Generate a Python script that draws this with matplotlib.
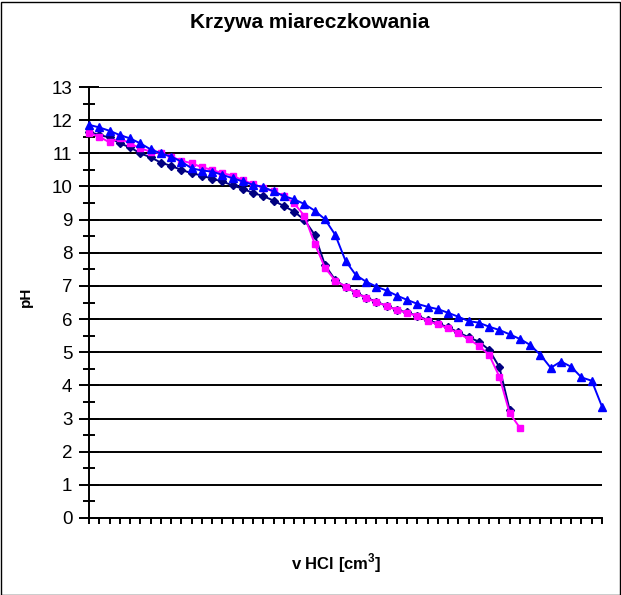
import matplotlib
matplotlib.use("Agg")
import matplotlib.pyplot as plt
from matplotlib.patches import Rectangle
from matplotlib.ticker import MultipleLocator

plt.rcParams["font.family"] = ["Liberation Sans", "DejaVu Sans"]
plt.rcParams["mathtext.fontset"] = "custom"
plt.rcParams["mathtext.bf"] = "Liberation Sans:bold"
plt.rcParams["mathtext.rm"] = "Liberation Sans"

# pH readings per titration step (category axis, no x labels)
ph_navy = [11.65, 11.55, 11.48, 11.30, 11.18, 11.00, 10.88, 10.72, 10.62, 10.50,
           10.40, 10.33, 10.23, 10.15, 10.03, 9.93, 9.80, 9.71, 9.57, 9.41,
           9.24, 8.99, 8.54, 7.63, 7.18, 6.97, 6.80, 6.65, 6.52, 6.40,
           6.28, 6.20, 6.10, 5.97, 5.87, 5.75, 5.60, 5.45, 5.32, 5.07,
           4.55, 3.26]
ph_pink = [11.62, 11.50, 11.33, 11.45, 11.30, 11.15, 11.05, 11.00, 10.90, 10.78,
           10.70, 10.58, 10.50, 10.40, 10.33, 10.18, 10.08, 9.95, 9.85, 9.71,
           9.49, 9.11, 8.27, 7.55, 7.16, 6.98, 6.80, 6.63, 6.51, 6.40,
           6.27, 6.19, 6.09, 5.94, 5.84, 5.72, 5.57, 5.40, 5.19, 4.92,
           4.26, 3.16, 2.72]
ph_blue = [11.86, 11.78, 11.68, 11.55, 11.45, 11.30, 11.12, 11.00, 10.90, 10.75,
           10.55, 10.48, 10.45, 10.35, 10.25, 10.15, 10.05, 9.98, 9.85, 9.71,
           9.61, 9.47, 9.27, 9.01, 8.54, 7.76, 7.33, 7.13, 6.98, 6.86,
           6.71, 6.58, 6.46, 6.37, 6.30, 6.19, 6.07, 5.94, 5.89, 5.77,
           5.67, 5.54, 5.40, 5.22, 4.92, 4.53, 4.72, 4.56, 4.24, 4.14,
           3.36]

W, H = 621, 595
fig = plt.figure(figsize=(W / 100, H / 100), dpi=100)
ax = fig.add_axes([89 / W, 1 - 518 / H, (602 - 89) / W, (518 - 87) / H])

series = [
    (ph_navy, "#000080", "D", 4.0),
    (ph_pink, "#FF00FF", "s", 4.6),
    (ph_blue, "#0000FF", "^", 5.2),
]
for vals, col, mk, ms in series:
    ax.plot(range(len(vals)), vals, color=col, lw=1.4, marker=mk, ms=ms,
            mec=col, mfc=col, clip_on=False, zorder=3)

n_cat = len(ph_blue)
ax.set_xlim(0, n_cat - 1)
ax.set_ylim(0, 13)
ax.set_xticks(range(n_cat))
ax.set_xticklabels([])
ax.yaxis.set_major_locator(MultipleLocator(1))
ax.yaxis.set_minor_locator(MultipleLocator(0.5))
ax.grid(axis="y", which="major", color="black", lw=1.4, zorder=1)

for side in ("top", "right"):
    ax.spines[side].set_visible(False)
for side in ("left", "bottom"):
    ax.spines[side].set_linewidth(1.4)

ax.tick_params(axis="y", which="major", direction="inout", length=14, width=1.4,
               labelsize=13.5, pad=5)
ax.tick_params(axis="y", which="minor", direction="inout", length=9, width=1.4)
ax.tick_params(axis="x", which="major", direction="out", length=4.5, width=1.4)

ax.set_ylabel("pH", fontsize=11, fontweight="bold", labelpad=12)
ax.yaxis.set_label_coords(-(89 - 33) / (602 - 89), (518 - 297) / (518 - 87))
ax.set_xlabel(r"v HCl [cm$^\mathbf{3}$]", fontsize=12, fontweight="bold")
ax.xaxis.set_label_coords((336 - 89) / (602 - 89), -(563 - 518) / (518 - 87))
ax.xaxis.label.set_va("center")

fig.text(310 / W, 1 - 23 / H, "Krzywa miareczkowania", ha="center", va="center",
         fontsize=15, fontweight="bold")

fig.patches.append(Rectangle((0.5 / W, 0.5 / H), (W - 2) / W, (H - 2) / H,
                             transform=fig.transFigure, fill=False,
                             ec="black", lw=1.0))

fig.savefig("out.png", dpi=100)
